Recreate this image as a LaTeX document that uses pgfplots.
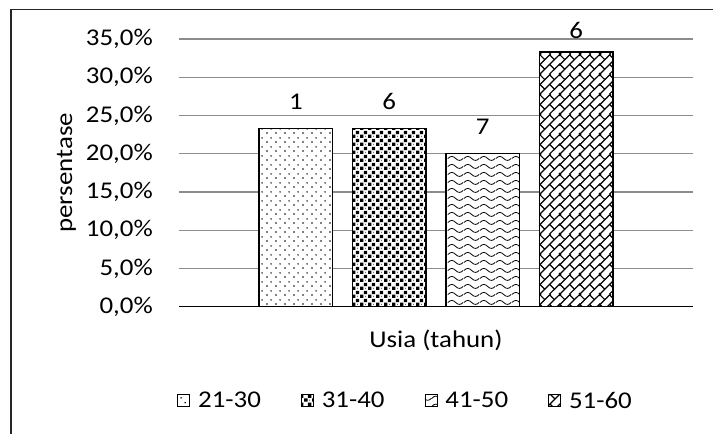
\documentclass[border=0pt]{standalone}
\usepackage{pgfplots}
\pgfplotsset{compat=1.18}
\usepackage{fontspec}
\setmainfont{Carlito}[FakeStretch=1.12]
\usetikzlibrary{patterns,patterns.meta}

\tikzdeclarepattern{
  name=pdots,
  type=uncolored,
  bounding box={(0pt,0pt) and (6.4pt,6.4pt)},
  tile size={(6.4pt,6.4pt)},
  code={
    \fill (1.6pt,1.6pt) circle (0.65pt);
    \fill (4.8pt,4.8pt) circle (0.65pt);
  }
}
\tikzdeclarepattern{
  name=psquares,
  type=uncolored,
  bounding box={(0pt,0pt) and (6pt,6pt)},
  tile size={(6pt,6pt)},
  code={
    \fill (0.2pt,0.2pt) rectangle (2.9pt,2.9pt);
    \fill (3.2pt,3.2pt) rectangle (5.9pt,5.9pt);
    \fill (4.5pt,1.5pt) circle (0.4pt);
  }
}
\tikzdeclarepattern{
  name=pwaves,
  type=uncolored,
  bounding box={(0pt,0pt) and (12pt,6pt)},
  tile size={(12pt,6pt)},
  code={
    \draw[line width=0.65pt] (0pt,3pt) .. controls (2pt,5.2pt) and (4pt,5.2pt) .. (6pt,3pt)
      .. controls (8pt,0.8pt) and (10pt,0.8pt) .. (12pt,3pt);
  }
}
\tikzdeclarepattern{
  name=pbricks,
  type=uncolored,
  bounding box={(0pt,0pt) and (15pt,15pt)},
  tile size={(15pt,15pt)},
  code={
    \foreach \sx in {-15,0,15}{
      \foreach \sy in {-15,0,15}{
        \begin{scope}[shift={(\sx pt,\sy pt)}, line width=0.95pt]
          \draw (0pt,0pt) -- (15pt,15pt);
          \draw (0pt,7.5pt) -- (7.5pt,15pt);
          \draw (7.5pt,0pt) -- (15pt,7.5pt);
          \draw (3.75pt,3.75pt) -- (0pt,7.5pt);
          \draw (11.25pt,11.25pt) -- (7.5pt,15pt);
          \draw (3.75pt,11.25pt) -- (0pt,15pt);
          \draw (11.25pt,18.75pt) -- (7.5pt,22.5pt);
        \end{scope}
      }
    }
  }
}

\begin{document}
\begin{tikzpicture}[font=\fontsize{18pt}{21.6pt}\selectfont]
\useasboundingbox (0,0) rectangle (534.75pt,325.5pt);
\draw[black!85, line width=0.9pt] (8.25pt,0pt) -- (8.25pt,318.5pt) -- (534.75pt,318.5pt);
\begin{axis}[
  at={(134.25pt,95.5pt)}, anchor=south west,
  scale only axis, width=385.5pt, height=200.8pt,
  ybar, bar width=0.79, bar shift=0pt,
  xmin=-1.25, xmax=4.25, ymin=0, ymax=35,
  xtick=\empty, ytick={0,5,...,35},
  axis x line*=bottom, axis y line*=left,
  y axis line style={draw=none},
  x axis line style={black, line width=1pt, -},
  major tick length=0pt,
  ymajorgrids, grid style={black!45, line width=0.9pt},
  /pgf/number format/.cd, fixed, fixed zerofill, precision=1, use comma, assume math mode=true,
  /pgfplots/.cd,
  yticklabel={\pgfmathprintnumber{\tick}\%},
  yticklabel style={anchor=east, inner sep=0pt, xshift=-19.5pt, font=\fontsize{18pt}{21.6pt}\selectfont},
  ylabel={persentase},
  ylabel style={at={(axis description cs:-0.208,0.5)}, anchor=base, rotate=0, font=\fontsize{18pt}{21.6pt}\selectfont},
  xlabel={Usia (tahun)},
  xlabel style={at={(axis description cs:0.5,-0.154)}, anchor=base, font=\fontsize{18pt}{21.6pt}\selectfont},
  point meta=explicit symbolic,
  nodes near coords,
  nodes near coords style={anchor=south, inner sep=0pt, yshift=13.8pt, font=\fontsize{18pt}{21.6pt}\selectfont, black},
  legend style={at={(axis description cs:-0.004,-0.352)}, anchor=west, draw=none, fill=none,
    legend columns=4, inner sep=0pt, font=\fontsize{18pt}{21.6pt}\selectfont,
    /tikz/every odd column/.append style={column sep=4pt},
    /tikz/every even column/.append style={column sep=28pt}},
  legend image code/.code={\draw[#1, line width=0.7pt] (0pt,-4.5pt) rectangle (9pt,4.5pt);},
]
\addplot[draw=black, line width=1.1pt, fill=white, postaction={pattern=pdots}] coordinates {(0,23.3) [1]};
\addlegendentry{21-30}
\addplot[draw=black, line width=1.1pt, fill=white, postaction={pattern=psquares}] coordinates {(1,23.3) [6]};
\addlegendentry{31-40}
\addplot[draw=black, line width=1.1pt, fill=white, postaction={pattern=pwaves}] coordinates {(2,20.0) [7]};
\addlegendentry{41-50}
\addplot[draw=black, line width=1.1pt, fill=white, postaction={pattern=pbricks},
  nodes near coords style={yshift=-4.5pt}] coordinates {(3,33.3) [6]};
\addlegendentry{51-60}
\end{axis}
\end{tikzpicture}
\end{document}
